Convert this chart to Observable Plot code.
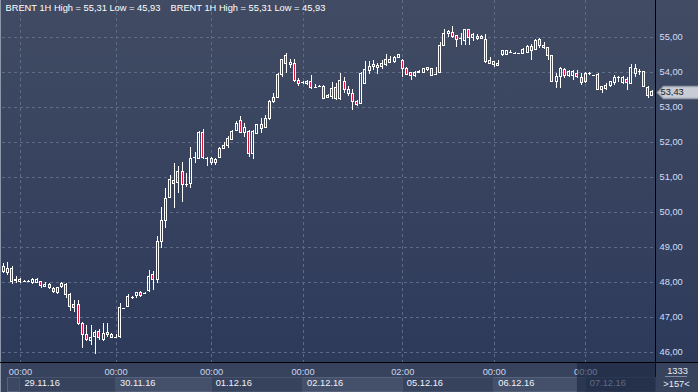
<!DOCTYPE html>
<html><head><meta charset="utf-8">
<script src="https://cdn.jsdelivr.net/npm/d3@7"></script>
<script src="https://cdn.jsdelivr.net/npm/@observablehq/plot@0.6"></script>
<style>
html,body{margin:0;padding:0;background:#2e3a56;overflow:hidden;}
#chart svg{display:block;}
</style></head><body><div id="chart"></div>
<script>
// ---- data: BRENT 1H candles ----
const open = [48.30,48.27,48.39,48.04,48.00,48.04,48.04,47.98,47.99,48.01,
 47.88,47.93,47.82,47.70,47.87,47.93,47.65,47.37,47.37,46.82,
 46.49,46.34,46.44,46.58,46.36,46.57,46.49,46.44,46.44,47.25,
 47.31,47.58,47.61,47.71,47.68,47.75,48.20,48.08,49.15,49.77,
 50.41,50.91,50.84,51.17,50.80,50.82,51.56,51.53,52.28,51.55,
 51.53,51.41,51.56,51.82,51.90,52.08,52.32,52.60,52.28,52.30,
 51.68,52.25,52.51,52.42,52.66,53.15,53.28,53.94,54.46,54.22,
 54.23,53.77,53.70,53.68,53.74,53.58,53.60,53.58,53.34,53.29,
 53.55,53.25,53.74,53.39,53.39,53.17,53.10,53.68,54.04,54.15,
 54.12,54.15,54.22,54.37,54.30,54.42,54.32,54.10,53.99,53.91,
 53.98,53.99,54.06,54.10,53.93,53.98,54.77,55.09,55.13,55.03,
 54.96,54.91,55.20,54.99,54.96,55.01,54.94,54.25,54.30,54.18,
 54.49,54.50,54.58,54.55,54.53,54.53,54.56,54.74,54.65,54.93,
 54.77,54.70,54.46,53.72,53.87,54.08,53.89,53.91,53.96,53.85,
 53.72,53.96,53.91,53.94,53.49,53.53,53.60,53.70,53.85,53.70,
 53.79,53.68,54.10,54.04,54.01,53.56,53.34];
const high = [48.55,48.58,48.46,48.18,48.10,48.07,48.05,48.10,48.10,48.04,
 47.99,47.98,47.85,47.87,48.00,47.96,47.68,47.49,47.49,46.87,
 46.77,46.77,46.63,46.65,46.82,46.82,46.53,46.51,47.39,47.26,
 47.65,47.60,47.72,47.74,47.70,48.35,48.30,49.32,50.14,50.68,
 51.06,51.41,51.30,51.44,51.12,51.86,51.72,52.31,52.36,51.56,
 51.58,51.53,51.87,51.99,52.17,52.34,52.60,52.74,52.55,52.35,
 52.35,52.52,52.68,52.77,53.20,53.40,53.96,54.38,54.55,54.38,
 54.37,53.82,53.74,53.76,53.91,53.65,53.64,53.63,53.37,53.72,
 53.68,53.98,53.87,53.60,53.50,53.20,54.00,54.32,54.31,54.34,
 54.25,54.34,54.50,54.46,54.47,54.52,54.36,54.13,54.01,54.03,
 54.06,54.12,54.15,54.12,54.15,54.87,55.22,55.19,55.31,55.06,
 55.10,55.22,55.22,55.10,55.09,55.06,55.08,54.44,54.32,54.34,
 54.63,54.63,54.63,54.58,54.55,54.68,54.77,54.80,54.93,54.96,
 54.86,54.72,54.49,53.96,54.15,54.10,54.06,54.06,54.06,53.96,
 53.99,54.01,53.92,53.96,53.60,53.68,53.75,53.91,53.89,53.89,
 53.85,54.23,54.23,54.08,54.04,53.60,53.49];
const low = [48.25,48.20,47.93,47.96,47.98,48.02,48.03,47.93,47.96,47.82,
 47.87,47.80,47.68,47.65,47.84,47.53,47.17,47.15,46.77,46.12,
 46.30,46.20,45.93,46.34,46.32,46.44,46.39,46.39,46.41,47.24,
 47.30,47.50,47.53,47.58,47.65,47.70,47.77,47.98,48.98,49.53,
 50.41,50.10,50.55,50.28,50.70,50.68,51.41,51.50,51.50,51.30,
 51.34,51.34,51.53,51.80,51.84,52.06,52.30,52.25,52.15,51.58,
 51.51,52.22,52.25,52.39,52.64,53.10,53.26,53.87,53.96,54.12,
 53.72,53.61,53.66,53.64,53.50,53.54,53.57,53.22,53.26,53.23,
 53.20,53.20,53.39,53.31,52.91,53.03,53.08,53.65,53.94,54.06,
 53.94,54.08,54.18,54.25,54.25,54.41,53.87,53.91,53.77,53.87,
 53.96,53.96,54.04,53.89,53.91,53.96,54.75,55.01,54.96,54.70,
 54.77,54.77,54.77,54.89,54.90,54.94,54.27,54.23,54.15,54.18,
 54.47,54.49,54.56,54.51,54.51,54.50,54.53,54.34,54.63,54.68,
 54.66,54.34,53.70,53.53,53.53,53.82,53.87,53.77,53.82,53.63,
 53.68,53.91,53.90,53.48,53.41,53.49,53.58,53.63,53.72,53.66,
 53.49,53.66,53.87,53.91,53.56,53.25,53.32];
const close = [48.45,48.39,48.01,48.08,48.06,48.04,48.04,48.06,48.06,47.90,
 47.93,47.85,47.72,47.84,47.96,47.65,47.31,47.28,46.80,46.49,
 46.37,46.42,46.56,46.42,46.53,46.49,46.42,46.44,47.28,47.25,
 47.58,47.58,47.70,47.62,47.68,48.17,48.08,49.15,49.77,50.39,
 50.93,50.82,51.17,50.79,50.80,51.53,51.56,52.28,51.55,51.55,
 51.42,51.50,51.82,51.90,52.10,52.31,52.53,52.28,52.40,51.68,
 52.30,52.49,52.39,52.66,53.15,53.28,53.94,54.37,54.23,54.26,
 53.76,53.68,53.70,53.74,53.56,53.58,53.60,53.25,53.28,53.53,
 53.25,53.77,53.49,53.51,53.15,53.06,53.96,54.06,54.17,54.20,
 54.18,54.23,54.37,54.28,54.42,54.50,54.10,53.94,53.90,53.98,
 54.01,54.09,54.12,53.91,53.93,54.77,55.09,55.15,55.01,54.93,
 54.96,55.20,54.99,55.06,55.01,54.96,54.29,54.32,54.20,54.25,
 54.60,54.60,54.58,54.55,54.53,54.63,54.72,54.61,54.91,54.77,
 54.70,54.46,53.72,53.88,54.10,53.89,54.01,54.01,53.87,53.70,
 53.96,53.96,53.91,53.50,53.58,53.61,53.72,53.85,53.85,53.85,
 53.70,54.13,53.96,54.04,53.58,53.34,53.43];

// sessions: first visible bar index of each trading day
const dayStart   = [1, 4, 27, 50, 72, 96, 118, 140];
const dayLabels  = ["", "29.11.16", "30.11.16", "01.12.16", "02.12.16", "05.12.16", "06.12.16", "07.12.16"];
const dayTimes   = ["", "00:00", "00:00", "00:00", "00:00", "02:00", "00:00", "00:00"];
const currentFrom = [138];
const priceTicks = [46, 47, 48, 49, 50, 51, 52, 53, 54, 55];
const symbolName = "BRENT";
const period = "1H";
const counters = ["1333", ">157<"];

// ---- build ----
const fmt = v => v.toFixed(2).replace(".", ",");
const bars = open.map((o, i) => ({i, open: o, high: high[i], low: low[i], close: close[i]}));
const nBars = bars.length;
const days = dayStart.map((s, k) => ({k, start: s, end: k + 1 < dayStart.length ? dayStart[k + 1] : nBars,
  label: dayLabels[k], time: dayTimes[k]}));
const gridTicks = days.filter(d => d.time).map(d => d.start);
const title = `${symbolName} ${period} High = ${fmt(d3.max(high))} Low = ${fmt(d3.min(low))}`;
const last = bars[nBars - 1];

const RED = "#dc143c";
const FS = 9.3;
const crisp = {shapeRendering: "crispEdges"};

const tagSymbol = {
  draw(ctx) {
    ctx.moveTo(2, 0); ctx.lineTo(8, -6); ctx.lineTo(44, -6);
    ctx.lineTo(44, 6); ctx.lineTo(8, 6); ctx.closePath();
  }
};

const bg = [
  "linear-gradient(#7f8aa0,#7f8aa0) 665px 376px / 22px 1px no-repeat",
  "linear-gradient(#000,#000) 655px 0 / 1px 392px no-repeat",
  "linear-gradient(#000,#000) 0 362px / 698px 1px no-repeat",
  "linear-gradient(#8e98aa,#8e98aa) 0 0 / 1px 392px no-repeat",
  "linear-gradient(#37435d,#37435d) 0 363px / 698px 29px no-repeat",
  "linear-gradient(to bottom,#414b63 0px,#2d3a5a 362px) 0 0 / 698px 363px no-repeat"
].join(",");

const chart = Plot.plot({
  width: 698, height: 392,
  marginTop: 0, marginLeft: 2, marginRight: 43, marginBottom: 30,
  x: {domain: [-0.313, 156.79], axis: null},
  y: {domain: [45.714, 56.057]},
  style: `background:${bg};font-family:'Liberation Sans',Arial,sans-serif;font-size:${FS}px;`,
  marks: [
    Plot.gridY(priceTicks, {stroke: "#5d6b88", strokeOpacity: 1, strokeDasharray: "3,3", ...crisp}),
    Plot.gridX(gridTicks, {stroke: "#5d6b88", strokeOpacity: 1, strokeDasharray: "3,3", ...crisp}),
    // date boxes in the bottom panel
    Plot.rect(days.filter(d => d.k % 2 === 0 && d.k < 7), {x1: "start", x2: "end", insetTop: 377, insetBottom: -29,
      fill: d => d.k === 0 ? "#3c4862" : "#44506a", stroke: "#56627b", ...crisp}),
    Plot.rect(days.filter(d => d.k % 2 === 1), {x1: "start", x2: "end", insetTop: 377, insetBottom: -29,
      fill: "none", stroke: "#46526b", ...crisp}),
    Plot.text(days.filter(d => d.time), {x: "start", frameAnchor: "bottom", text: "time", dy: 9.7,
      lineAnchor: "middle", textAnchor: "middle", fill: "#c9d6ef", fontSize: FS}),
    // current session shading
    Plot.rect(currentFrom, {x1: d => d, x2: nBars, insetTop: 363, insetBottom: -30, fill: "#18213c", fillOpacity: 0.55}),
    Plot.text(days.filter(d => d.label && d.end < nBars), {x: "start", frameAnchor: "bottom", text: "label", dy: 20.7, dx: 4,
      lineAnchor: "middle", textAnchor: "start", fill: "#eef2fa", fontSize: FS}),
    Plot.text(days.filter(d => d.label && d.end >= nBars), {x: "start", frameAnchor: "bottom", text: "label", dy: 20.7, dx: 4,
      lineAnchor: "middle", textAnchor: "start", fill: "#5f6a84", fontSize: FS}),
    // candles: wicks
    Plot.ruleX(bars, {x: "i", y1: d => Math.max(d.open, d.close), y2: "high", stroke: "#fff", ...crisp}),
    Plot.ruleX(bars, {x: "i", y1: "low", y2: d => Math.min(d.open, d.close), stroke: "#fff", ...crisp}),
    // bodies
    Plot.rect(bars.filter(d => d.close > d.open), {x1: d => d.i - 0.5, x2: d => d.i + 0.5, y1: "open", y2: "close",
      insetLeft: 1.08, insetRight: 1.08, fill: "none", stroke: "#fff", ...crisp}),
    Plot.rect(bars.filter(d => d.close < d.open), {x1: d => d.i - 0.5, x2: d => d.i + 0.5, y1: "open", y2: "close",
      insetLeft: 1.08, insetRight: 1.08, fill: RED, stroke: "#fff", ...crisp}),
    Plot.ruleY(bars.filter(d => d.close === d.open), {y: "close", x1: d => d.i - 0.5, x2: d => d.i + 0.5,
      insetLeft: 0.6, insetRight: 0.6, stroke: "#fff", ...crisp}),
    // right price axis
    Plot.axisY({anchor: "right", ticks: priceTicks, tickSize: 0, tickPadding: 4, tickFormat: fmt,
      color: "#d3def5", fontSize: FS, label: null}),
    // last price tag
    Plot.dot([last], {y: "close", frameAnchor: "right", symbol: tagSymbol, r: 6, fill: "#c8ccd4", stroke: "#98a0ae"}),
    Plot.text([last], {y: "close", frameAnchor: "right", text: d => fmt(d.close), dx: 5, textAnchor: "start",
      lineAnchor: "middle", fill: "#1a1a1a", fontSize: FS}),
    // title (twice, as in the terminal)
    Plot.text([title], {frameAnchor: "top-left", text: d => d, dx: 3, dy: 7.5, textAnchor: "start", lineAnchor: "middle",
      fill: "#ffffff", fontSize: FS}),
    Plot.text([title], {frameAnchor: "top-left", text: d => d, dx: 168, dy: 7.5, textAnchor: "start", lineAnchor: "middle",
      fill: "#ffffff", fontSize: FS}),
    // counters bottom-right
    Plot.text([counters[0]], {frameAnchor: "bottom-right", text: d => d, dx: 22, dy: 8.3, textAnchor: "middle",
      lineAnchor: "middle", fill: "#e6ecf7", fontSize: FS}),
    Plot.text([counters[1]], {frameAnchor: "bottom-right", text: d => d, dx: 21, dy: 21.5, textAnchor: "middle",
      lineAnchor: "middle", fill: "#e6ecf7", fontSize: FS})
  ]
});
document.getElementById("chart").appendChild(chart);
</script>
</body></html>
